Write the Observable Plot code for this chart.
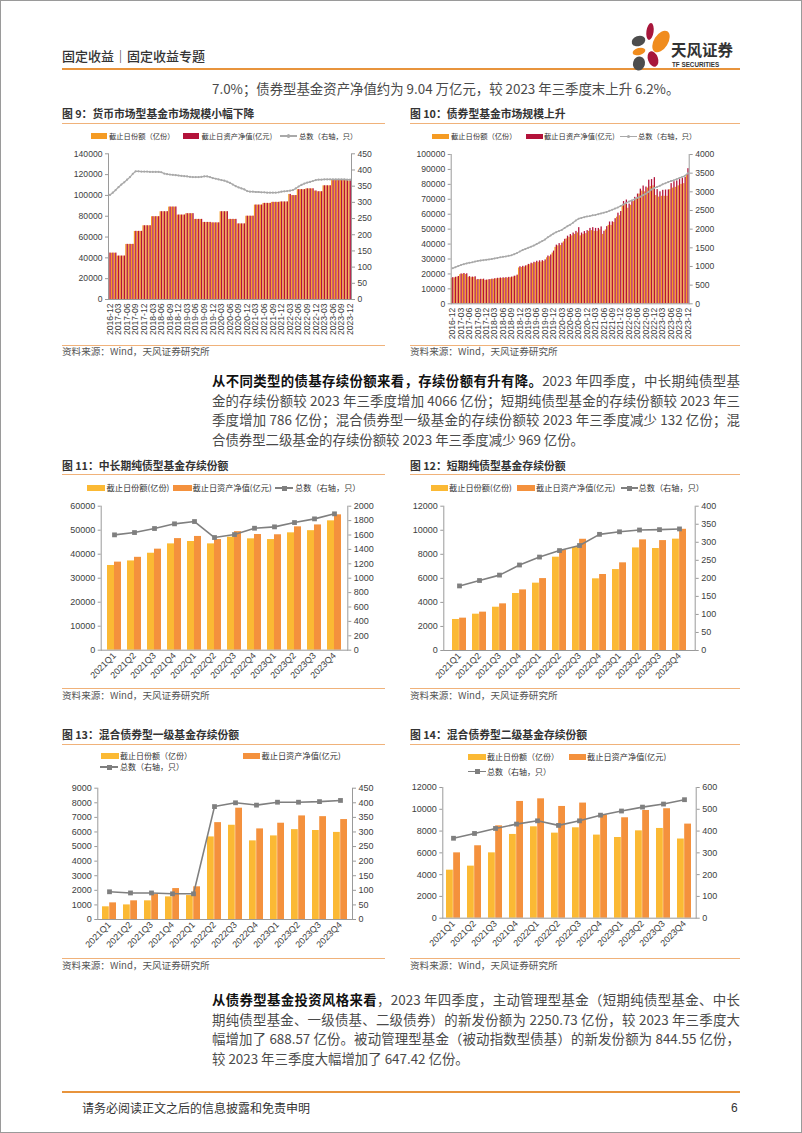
<!DOCTYPE html>
<html><head><meta charset="utf-8">
<script src="https://cdn.jsdelivr.net/npm/d3@7"></script>
<script src="https://cdn.jsdelivr.net/npm/@observablehq/plot@0.6"></script>
<style>
html,body{margin:0;padding:0;background:#fff;}
#page{position:relative;width:802px;height:1133px;overflow:hidden;font-family:"Noto Sans CJK SC","Noto Sans",sans-serif;color:#333;background:#fff;}
#frame{position:absolute;left:0;top:0;width:800px;height:1131px;border:1px solid #9a9a9a;pointer-events:none;}
.abs{position:absolute;white-space:nowrap;}
.line{position:absolute;left:212px;width:528px;font-size:13.4px;line-height:19.6px;color:#4a4a4a;text-align:justify;text-align-last:justify;white-space:nowrap;}
.line.last{text-align-last:left;}
.line b{color:#111;font-weight:700;}
.rule{position:absolute;height:1px;background:#f0b27a;}
.chart{position:absolute;}
.chart svg{overflow:visible;}
</style></head>
<body><div id="page"><div id="frame"></div></div>
<script>
// ---------------- data ----------------
const monthLabels = [];
for (let y = 2016, m = 12; !(y === 2024 && m === 1);) {
  monthLabels.push(`${y}-${String(m).padStart(2, "0")}`);
  m++; if (m > 12) { m = 1; y++; }
}
const quarterLabels = ["2021Q1","2021Q2","2021Q3","2021Q4","2022Q1","2022Q2","2022Q3","2022Q4","2023Q1","2023Q2","2023Q3","2023Q4"];

// Fig 9: money market funds (monthly)
const mmfShare = [44500,44500,44500, 41700,41700,41700, 52900,52900,52900, 65400,65400,65400, 70800,70800,70800, 79500,79500,79500, 84300,84300,84300, 88800,88800,88800, 81100,81100,81100, 82400,82400,82400, 76900,76900,76900, 74000,74000,74000, 73600,73600,73600, 84300,84300,84300, 76900,76900,76900, 72600,72600,72600, 80000,80000,80000, 90700,90700,90700, 92300,92300,92300, 93300,93300,93300, 93700,93700,93700, 100900,99800,99800, 105500,105500,105500, 106300,106300,106300, 104200,103500,103500, 109200,109200,109200, 114300,114300,114300, 114500,114500,114500, 114000];
const mmfNav = [44600,44600,44600, 41800,41800,41800, 53000,53000,53000, 65500,65500,65500, 70900,70900,70900, 79600,79600,79600, 84400,84400,84400, 88900,88900,88900, 81200,81200,81200, 82500,82500,82500, 77000,77000,77000, 74100,74100,74100, 73700,73700,73700, 84400,84400,84400, 77000,77000,77000, 72700,72700,72700, 80100,80100,80100, 90800,90800,90800, 92400,92400,92400, 93400,93400,93400, 93800,93800,93800, 101000,99900,99900, 105600,105600,105600, 106400,106400,106400, 104300,103600,103600, 109300,109300,109300, 114400,114400,114400, 114600,114600,114600, 114100];
const mmfCount = [323, 330,338,347,355,362,370,378,388,396,396,395,395, 395,394,394,394,394,393,389,387,386,385,384,383, 382,381,380,379,378,378,378,379,380,380,378,375, 373,371,369,367,364,360,355,350,346,343,340,335, 333,333,332,332,331,331,330,330,330,330,331,333, 334,335,336,338,343,349,354,358,361,363,366,369, 370,370,371,371,371,371,371,371,371,371,370,370];

// Fig 10: bond funds (monthly)
const bondShare = [17000,17300,17800, 19500,19800,19600, 17800,17500,17700, 16000,16100,16200, 15600,15900,16200, 16400,16700,16900, 17000,17100,17200, 17400,17900,18500, 24000,24300,24600, 25500,26200,26800, 27500,27800,27900, 28300,30800,31500, 34000,37800,38800, 39000,41500,43500, 44500,45500,46500, 47500,45500,46500, 47000,48500,49000, 48500,48500,49500, 46500,49500,52500, 52500,54500,58000, 59000,65500,66500, 64000,66000,68500, 70500,73500,75500, 75000,77500,78500, 79000,72500,71500, 72000,72000,72000, 76500,77500,78000, 79000,80000,80500, 86000];
const bondNav = [17500,17800,18300, 20000,20300,20100, 18200,17900,18100, 16300,16400,16500, 15900,16200,16500, 16800,17100,17300, 17400,17500,17700, 17900,18500,19200, 24800,25100,25400, 26400,27200,27800, 28500,28800,28900, 29400,32000,32700, 35300,39300,40300, 40600,43200,45300, 46400,47400,48500, 51000,47400,48400, 49000,50500,51000, 50500,50500,51500, 48600,51700,54800, 54900,57000,60700, 61800,68500,69500, 66800,68700,71300, 73500,76800,78900, 78200,82800,83200, 84500,76500,75000, 76000,76200,76300, 80500,81800,82300, 83200,84000,84600, 90500];
const bondCount = [950, 980,1010,1040,1060,1080,1100,1110,1130,1150,1160,1170,1180, 1190,1200,1215,1230,1245,1260,1270,1285,1300,1330,1360,1400, 1440,1470,1500,1530,1560,1600,1640,1680,1720,1780,1830,1880, 1920,1950,1980,2030,2080,2120,2170,2230,2280,2300,2320,2340, 2350,2370,2380,2400,2420,2440,2460,2490,2520,2550,2580,2620, 2660,2700,2740,2770,2800,2840,2870,2910,2950,3000,3060,3100, 3130,3160,3200,3230,3260,3290,3310,3340,3370,3400,3430,3500];

// Fig 11: medium/long-term pure bond funds
const mlShare = [35300,37200,40400,44300,45300,44300,47100,46400,46100,48900,49800,53900];
const mlNav = [36700,38700,42100,46500,47400,46100,49400,48200,48100,51400,52200,56400];
const mlCount = [1602,1634,1690,1755,1787,1565,1606,1694,1713,1773,1824,1894];

// Fig 12: short-term pure bond funds
const stShare = [2580,3020,3600,4740,5600,7760,8560,5960,6730,8530,8480,9260];
const stNav = [2690,3190,3880,5040,5980,8370,9250,6320,7290,9200,9140,10080];
const stCount = [179,194,209,237,259,277,291,322,329,334,335,337];

// Fig 13: mixed bond primary funds
const p1Share = [870,1000,1280,1550,1640,5660,6460,5390,5730,6160,6100,5970];
const p1Nav = [1140,1280,1710,2120,2240,6640,7630,6210,6600,7100,7050,6850];
const p1Count = [95,91,91,88,88,387,400,392,402,402,404,408];

// Fig 14: mixed bond secondary funds
const p2Share = [4410,4780,6000,7690,8390,7810,8300,7630,7410,8020,8240,7270];
const p2Nav = [6000,6650,8480,10720,10960,10260,10570,9460,9220,9890,10050,8640];
const p2Count = [367,389,412,432,447,426,447,473,492,510,524,544];

// ---------------- helpers ----------------
const page = document.getElementById("page");
function txt(html, x, cy, size, opt = {}) {
  const d = document.createElement("div");
  d.className = "abs";
  d.innerHTML = html;
  const lh = size * 1.4;
  d.style.left = x + "px";
  d.style.top = (cy - lh / 2) + "px";
  d.style.fontSize = size + "px";
  d.style.lineHeight = lh + "px";
  if (opt.color) d.style.color = opt.color;
  if (opt.weight) d.style.fontWeight = opt.weight;
  if (opt.family) d.style.fontFamily = opt.family;
  page.appendChild(d);
  return d;
}
function rect(x, y, w, h, color) {
  const d = document.createElement("div");
  d.className = "abs";
  Object.assign(d.style, {left: x + "px", top: y + "px", width: w + "px", height: h + "px", background: color});
  page.appendChild(d);
  return d;
}
function lineSwatch(x, cy, w, color, marker) {
  rect(x, cy - 0.6, w, 1.3, color);
  if (marker === "square") rect(x + w / 2 - 2.5, cy - 2.5, 5, 5, color);
  else { const d = rect(x + w / 2 - 1.6, cy - 1.6, 3.2, 3.2, color); d.style.borderRadius = "50%"; }
}

const NUMFONT = '"Liberation Sans", Arial, sans-serif';
const C9 = {share: "#F59B23", nav: "#B3123A", line: "#A9A9A9"};
const C11 = {share: "#FBB934", nav: "#F4913D", line: "#7F7F7F"};

function dualChart(cfg) {
  const {cats, share, nav, count, leftMax, leftStep, rightMax, rightStep, w, h, m, pi, colors, xTicks, rot, marker, dotR, lw, fs} = cfg;
  const k = leftMax / rightMax;
  const W = w - m.l - m.r;
  const step = W / cats.length;
  const bw = step * (1 - pi);
  const rows = cats.map((c, i) => ({c, s: share[i], n: nav[i], t: count[i] * k}));
  const plot = Plot.plot({
    width: w, height: h,
    marginLeft: m.l, marginRight: m.r, marginTop: m.t, marginBottom: m.b,
    style: {fontFamily: NUMFONT, fontSize: fs + "px", color: "#404040", background: "transparent", overflow: "visible"},
    x: {domain: cats, paddingInner: pi, paddingOuter: pi / 2, label: null},
    y: {domain: [0, leftMax], label: null},
    marks: [
      Plot.barY(rows, {x: "c", y: "s", fill: colors.share, insetLeft: 0, insetRight: bw / 2}),
      Plot.barY(rows, {x: "c", y: "n", fill: colors.nav, insetLeft: bw / 2, insetRight: 0}),
      Plot.frame({anchor: "left", stroke: "#9a9a9a"}),
      Plot.frame({anchor: "right", stroke: "#9a9a9a"}),
      Plot.frame({anchor: "bottom", stroke: "#9a9a9a"}),
      Plot.axisY({anchor: "left", ticks: d3.range(0, leftMax + 1, leftStep), tickSize: 3, tickPadding: 3, stroke: "#9a9a9a", tickFormat: d => String(d), label: null}),
      Plot.axisY({anchor: "right", ticks: d3.range(0, rightMax + 1, rightStep).map(v => v * k), tickSize: 3, tickPadding: 3, stroke: "#9a9a9a", tickFormat: v => String(Math.round(v / k)), label: null}),
      Plot.axisX({ticks: xTicks, tickRotate: rot, tickSize: 0, tickPadding: 4, label: null}),
      Plot.line(rows, {x: "c", y: "t", stroke: colors.line, strokeWidth: lw}),
      Plot.dot(rows, {x: "c", y: "t", symbol: marker, r: dotR, fill: colors.line, stroke: "none"})
    ]
  });
  const holder = document.createElement("div");
  holder.className = "chart";
  holder.style.left = cfg.x + "px";
  holder.style.top = cfg.y + "px";
  holder.appendChild(plot);
  page.appendChild(holder);
}

// ---------------- header ----------------
txt("固定收益｜固定收益专题", 62, 56, 13, {color: "#333", weight: 500});
rect(62, 68, 678, 1.6, "#E8943C");
// logo
const logo = `<svg width="130" height="56" viewBox="620 18 130 56" style="position:absolute;left:620px;top:18px">
<ellipse cx="650" cy="31.5" rx="3.6" ry="8.5" transform="rotate(8 650 31.5)" fill="#A8163B"/>
<ellipse cx="661" cy="41.5" rx="7" ry="12" transform="rotate(32 661 41.5)" fill="#F08C1E"/>
<ellipse cx="638.5" cy="41" rx="7" ry="5" transform="rotate(-20 638.5 41)" fill="#4D4D4D"/>
<ellipse cx="639" cy="51.5" rx="6.5" ry="3.5" transform="rotate(-15 639 51.5)" fill="#F08C1E"/>
<ellipse cx="653" cy="59" rx="5" ry="8" transform="rotate(-20 653 59)" fill="#A8163B"/>
<ellipse cx="639" cy="63.5" rx="6" ry="7" transform="rotate(15 639 63.5)" fill="#4D4D4D"/>
<text x="671" y="56" font-size="15.5" font-weight="700" fill="#333" font-family="Noto Sans CJK SC">天风证券</text>
<text x="672" y="66.5" font-size="6.3" font-weight="700" fill="#333" font-family="Liberation Sans">TF SECURITIES</text>
</svg>`;
page.insertAdjacentHTML("beforeend", logo);

txt("7.0%；债券型基金资产净值约为 9.04 万亿元，较 2023 年三季度末上升 6.2%。", 212, 88, 13.4, {color: "#4a4a4a"});

// ---------------- chart titles / rules / sources ----------------
function frameTexts(x0, x1, title, ty, ry, sry, sy) {
  txt(title, x0, ty, 10.8, {weight: 700, color: "#333"});
  rect(x0, ry, x1 - x0, 1.2, "#F0B27A");
  rect(x0, sry, x1 - x0, 1.2, "#F0B27A");
  txt("资料来源：Wind，天风证券研究所", x0, sy, 9.6, {color: "#555"});
}
frameTexts(62, 385, "图 9：货币市场型基金市场规模小幅下降", 114, 122.5, 344.5, 352);
frameTexts(410, 740, "图 10：债券型基金市场规模上升", 114, 122.5, 344.5, 352);
frameTexts(62, 385, "图 11：中长期纯债型基金存续份额", 466, 474, 688, 696);
frameTexts(410, 740, "图 12：短期纯债型基金存续份额", 466, 474, 688, 696);
frameTexts(62, 385, "图 13：混合债券型一级基金存续份额", 735, 743.5, 957.5, 966);
frameTexts(410, 740, "图 14：混合债券型二级基金存续份额", 735, 743.5, 957.5, 966);

// ---------------- legends ----------------
function legendBar(x, cy, w, color, label, tx, size) { rect(x, cy - 2.6, w, 5.2, color); txt(label, tx, cy, size, {color: "#333"}); }
// fig 9
legendBar(91, 136, 16, C9.share, "截止日份额（亿份）", 109, 7.3);
legendBar(183, 136, 16, C9.nav, "截止日资产净值(亿元)", 201.5, 7.3);
lineSwatch(280, 136, 17, C9.line, "dot"); txt("总数（右轴，只）", 299, 136, 7.3, {color: "#333"});
// fig 10
legendBar(432, 136.5, 17, C9.share, "截止日份额（亿份）", 451, 7.3);
legendBar(526, 136.5, 17, C9.nav, "截止日资产净值(亿元)", 544, 7.3);
lineSwatch(620, 136.5, 17, C9.line, "dot"); txt("总数（右轴，只）", 638, 136.5, 7.3, {color: "#333"});
// fig 11
legendBar(87, 488, 18, C11.share, "截止日份额(亿份)", 106.5, 8.2);
legendBar(173, 488, 18.5, C11.nav, "截止日资产净值(亿元)", 192.5, 8.2);
lineSwatch(275, 488, 18, C11.line, "square"); txt("总数（右轴，只）", 295, 488, 8.2, {color: "#333"});
// fig 12
legendBar(431, 488, 16.5, C11.share, "截止日份额(亿份)", 449, 8.2);
legendBar(517, 488, 18, C11.nav, "截止日资产净值(亿元)", 536, 8.2);
lineSwatch(621, 488, 16.5, C11.line, "square"); txt("总数（右轴，只）", 638.5, 488, 8.2, {color: "#333"});
// fig 13
legendBar(101, 756, 17.5, C11.share, "截止日份额（亿份）", 120, 8);
legendBar(243, 756, 17, C11.nav, "截止日资产净值(亿元)", 261.5, 8.2);
lineSwatch(100, 767, 18, C11.line, "square"); txt("总数（右轴，只）", 120, 767, 8, {color: "#333"});
// fig 14
legendBar(468, 757, 18, C11.share, "截止日份额（亿份）", 487, 8);
legendBar(569, 757, 17, C11.nav, "截止日资产净值(亿元)", 587, 8.2);
lineSwatch(468, 771.5, 18, C11.line, "square"); txt("总数（右轴，只）", 487, 771.5, 8, {color: "#333"});

// ---------------- charts ----------------
const monthTicks = monthLabels.filter((d, i) => i % 3 === 0);
dualChart({x: 60, y: 145, w: 330, h: 195, m: {l: 48, r: 39, t: 8.3, b: 41},
  cats: monthLabels, share: mmfShare, nav: mmfNav, count: mmfCount,
  leftMax: 140000, leftStep: 20000, rightMax: 450, rightStep: 50,
  pi: 0.08, colors: C9, xTicks: monthTicks, rot: -90, marker: "circle", dotR: 1.1, lw: 1.3, fs: 8.6});
dualChart({x: 400, y: 145, w: 330, h: 195, m: {l: 50.7, r: 41.3, t: 9, b: 36.7},
  cats: monthLabels, share: bondShare, nav: bondNav, count: bondCount,
  leftMax: 100000, leftStep: 10000, rightMax: 4000, rightStep: 500,
  pi: 0.08, colors: C9, xTicks: monthTicks, rot: -90, marker: "circle", dotR: 1.0, lw: 1.3, fs: 8.6});
dualChart({x: 60, y: 495, w: 330, h: 200, m: {l: 40.7, r: 42.7, t: 10.7, b: 45.3},
  cats: quarterLabels, share: mlShare, nav: mlNav, count: mlCount,
  leftMax: 60000, leftStep: 10000, rightMax: 2000, rightStep: 200,
  pi: 0.32, colors: C11, xTicks: quarterLabels, rot: -45, marker: "square", dotR: 2.7, lw: 1.6, fs: 9});
dualChart({x: 400, y: 495, w: 330, h: 200, m: {l: 43.3, r: 35.3, t: 10.7, b: 45},
  cats: quarterLabels, share: stShare, nav: stNav, count: stCount,
  leftMax: 12000, leftStep: 2000, rightMax: 400, rightStep: 50,
  pi: 0.32, colors: C11, xTicks: quarterLabels, rot: -45, marker: "square", dotR: 2.7, lw: 1.6, fs: 9});
dualChart({x: 60, y: 775, w: 330, h: 190, m: {l: 37.3, r: 38, t: 12.7, b: 46},
  cats: quarterLabels, share: p1Share, nav: p1Nav, count: p1Count,
  leftMax: 9000, leftStep: 1000, rightMax: 450, rightStep: 50,
  pi: 0.32, colors: C11, xTicks: quarterLabels, rot: -45, marker: "square", dotR: 2.7, lw: 1.6, fs: 9});
dualChart({x: 400, y: 775, w: 330, h: 190, m: {l: 42.3, r: 34.3, t: 12, b: 47.3},
  cats: quarterLabels, share: p2Share, nav: p2Nav, count: p2Count,
  leftMax: 12000, leftStep: 2000, rightMax: 600, rightStep: 100,
  pi: 0.32, colors: C11, xTicks: quarterLabels, rot: -45, marker: "square", dotR: 2.7, lw: 1.6, fs: 9});

// ---------------- paragraphs ----------------
function para(lines, y0) {
  lines.forEach((l, i) => {
    const d = document.createElement("div");
    d.className = "line" + (i === lines.length - 1 ? " last" : "");
    d.style.top = (y0 + i * 19.6 - 9.8) + "px";
    d.innerHTML = l;
    page.appendChild(d);
  });
}
para([
  "<b>从不同类型的债基存续份额来看，存续份额有升有降。</b>2023 年四季度，中长期纯债型基",
  "金的存续份额较 2023 年三季度增加 4066 亿份；短期纯债型基金的存续份额较 2023 年三",
  "季度增加 786 亿份；混合债券型一级基金的存续份额较 2023 年三季度减少 132 亿份；混",
  "合债券型二级基金的存续份额较 2023 年三季度减少 969 亿份。"
], 381);
para([
  "<b>从债券型基金投资风格来看</b>，2023 年四季度，主动管理型基金（短期纯债型基金、中长",
  "期纯债型基金、一级债基、二级债券）的新发份额为 2250.73 亿份，较 2023 年三季度大",
  "幅增加了 688.57 亿份。被动管理型基金（被动指数型债基）的新发份额为 844.55 亿份，",
  "较 2023 年三季度大幅增加了 647.42 亿份。"
], 1000);

// ---------------- footer ----------------
rect(62, 1091, 678, 1.8, "#E8943C");
txt("请务必阅读正文之后的信息披露和免责申明", 82, 1108, 12, {color: "#333"});
txt("6", 731, 1108, 12, {color: "#333", family: NUMFONT});
</script>
</body></html>
